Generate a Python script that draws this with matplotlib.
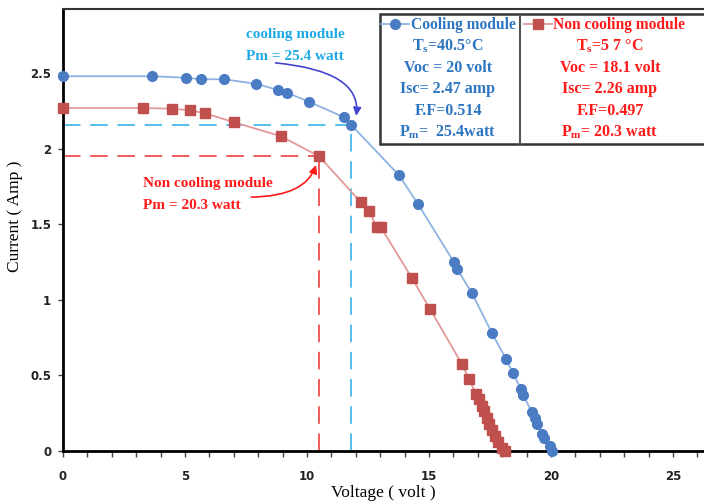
import matplotlib
matplotlib.use('Agg')
import matplotlib.pyplot as plt
from matplotlib.ticker import MultipleLocator
from matplotlib.patches import Rectangle

# cooling module I-V points
v_cool = [0, 3.65, 5.04, 5.66, 6.6, 7.9, 8.8, 9.2, 10.1, 11.5, 11.8,
          13.77, 14.55, 16.02, 16.15, 16.76, 17.58, 18.16, 18.44, 18.77,
          18.85, 19.22, 19.34, 19.43, 19.63, 19.71, 19.96, 20.04]
i_cool = [2.48, 2.48, 2.47, 2.46, 2.46, 2.43, 2.39, 2.37, 2.31, 2.21, 2.16,
          1.825, 1.634, 1.25, 1.204, 1.045, 0.78, 0.608, 0.516, 0.41,
          0.37, 0.258, 0.218, 0.179, 0.112, 0.086, 0.033, 0.0]

# non cooling module I-V points
v_non = [0, 3.28, 4.47, 5.2, 5.82, 7.0, 8.93, 10.5, 12.2, 12.54, 12.87,
         13.03, 14.3, 15.04, 16.35, 16.64, 16.93, 17.05, 17.17, 17.25,
         17.38, 17.46, 17.58, 17.7, 17.83, 17.99, 18.11]
i_non = [2.27, 2.27, 2.265, 2.255, 2.235, 2.176, 2.083, 1.95, 1.647, 1.587,
         1.48, 1.48, 1.144, 0.94, 0.575, 0.476, 0.377, 0.344, 0.298, 0.265,
         0.218, 0.179, 0.139, 0.099, 0.06, 0.02, 0.0]

# maximum power points [cooling, non cooling]
mpp_v = [11.8, 10.5]
mpp_i = [2.16, 1.95]

cool_rows = ['T$_\\mathregular{s}$=40.5°C', 'Voc = 20 volt', 'Isc= 2.47 amp',
             'F.F=0.514', 'P$_\\mathregular{m}$=  25.4watt']
non_rows = ['T$_\\mathregular{s}$=5 7 °C', 'Voc = 18.1 volt', 'Isc= 2.26 amp',
            'F.F=0.497', 'P$_\\mathregular{m}$= 20.3 watt']

serif = 'Liberation Serif'
blue_txt = '#2E75C0'
red_txt = '#FF1A1A'

fig = plt.figure(figsize=(7.04, 5.04), dpi=100)
ax = fig.add_axes([63 / 704, 53 / 504, 641 / 704, 442 / 504])

# dashed guide lines to the max power points
ax.plot([0, mpp_v[0]], [mpp_i[0], mpp_i[0]], color='#55BDEB', lw=1.4, dashes=(9, 5))
ax.plot([mpp_v[0], mpp_v[0]], [0, mpp_i[0]], color='#55BDEB', lw=1.4, dashes=(9, 5))
ax.plot([0, mpp_v[1]], [mpp_i[1], mpp_i[1]], color='#F05A5A', lw=1.4, dashes=(9, 5))
ax.plot([mpp_v[1], mpp_v[1]], [0, mpp_i[1]], color='#F05A5A', lw=1.4, dashes=(9, 5))

l1, = ax.plot(v_cool, i_cool, color='#8DB3E2', lw=1.3, marker='o', ms=7,
              mfc='#4A7CC4', mec='#4A7CC4', clip_on=False, zorder=4)
l2, = ax.plot(v_non, i_non, color='#E29A98', lw=1.3, marker='s', ms=6.5,
              mfc='#C0504D', mec='#C0504D', clip_on=False, zorder=4)

# annotations
ax.text(7.5, 2.758, 'cooling module', color='#1DA8E6', fontsize=11,
        fontweight='bold', family=serif, va='center')
ax.text(7.5, 2.612, 'Pm = 25.4 watt', color='#1DA8E6', fontsize=11,
        fontweight='bold', family=serif, va='center')
ax.annotate('', xy=(mpp_v[0] + 0.2, mpp_i[0] + 0.04), xytext=(8.6, 2.57),
            arrowprops=dict(arrowstyle='-|>', color='#4444D0', lw=1.2,
                            connectionstyle='angle3,angleA=-5,angleB=80',
                            mutation_scale=12))
ax.text(3.28, 1.772, 'Non cooling module', color=red_txt, fontsize=11,
        fontweight='bold', family=serif, va='center')
ax.text(3.28, 1.627, 'Pm = 20.3 watt', color=red_txt, fontsize=11,
        fontweight='bold', family=serif, va='center')
ax.annotate('', xy=(mpp_v[1] - 0.1, mpp_i[1] - 0.04), xytext=(7.6, 1.68),
            arrowprops=dict(arrowstyle='-|>', color=red_txt, lw=1.2,
                            connectionstyle='angle3,angleA=0,angleB=75',
                            mutation_scale=12))

# info box
x0 = (380 - 63) / 641
y0 = (451 - 144) / 442
ax.add_patch(Rectangle((x0, y0), 1.2, 130 / 442, transform=ax.transAxes,
                       facecolor='white', edgecolor='#333333', lw=1.8,
                       zorder=5, clip_on=False))
xd = (520 - 63) / 641
ax.plot([xd, xd], [y0, y0 + 130 / 442], transform=ax.transAxes, color='#555555',
        lw=1.5, zorder=6, clip_on=False)
leg = ax.legend([l1, l2], ['Cooling module', 'Non cooling module'], ncol=2,
                loc='upper left', bbox_to_anchor=(x0 - 0.004, 0.99),
                frameon=False, handlelength=1.8, handletextpad=0.1,
                columnspacing=0.5, borderaxespad=0, borderpad=0.25,
                prop=dict(family=serif, weight='bold', size=11.2))
leg.set_zorder(7)
for t, c in zip(leg.get_texts(), [blue_txt, red_txt]):
    t.set_color(c)
row_y = [(451 - y) / 442 for y in [46, 68, 89, 111, 132]]
for ry, a, b in zip(row_y, cool_rows, non_rows):
    ax.text((448 - 63) / 641, ry, a, transform=ax.transAxes, ha='center',
            va='center', color=blue_txt, fontsize=11.5, fontweight='bold',
            family=serif, zorder=7)
    ax.text((610 - 63) / 641, ry, b, transform=ax.transAxes, ha='center',
            va='center', color=red_txt, fontsize=11.5, fontweight='bold',
            family=serif, zorder=7)

ax.set_xlim(0, 26.27)
ax.set_ylim(0, 2.925)
ax.xaxis.set_major_locator(MultipleLocator(5))
ax.xaxis.set_minor_locator(MultipleLocator(1))
ax.set_yticks([0, 0.5, 1, 1.5, 2, 2.5])
ax.set_yticklabels(['0', '0.5', '1', '1.5', '2', '2.5'])
ax.tick_params(axis='x', which='both', direction='out', length=4, width=1,
               color='#444444', pad=10)
ax.tick_params(axis='y', direction='out', length=3.5, width=1, color='#444444', pad=5)
for lab in ax.get_xticklabels() + ax.get_yticklabels():
    lab.set_fontweight('bold')
    lab.set_fontsize(8.5)
    lab.set_family('DejaVu Sans')
    lab.set_color('#222222')

ax.spines['right'].set_visible(False)
ax.spines['left'].set_linewidth(2)
ax.spines['bottom'].set_linewidth(2)
ax.spines['top'].set_linewidth(1.5)
ax.spines['top'].set_color('#333333')

ax.set_xlabel('Voltage ( volt )', family=serif, fontsize=12.5)
ax.xaxis.set_label_coords(0.5, -0.077)
ax.set_ylabel('Current ( Amp )', family=serif, fontsize=12.5)
ax.yaxis.set_label_coords(-0.062, 0.53)

plt.savefig('out.png', dpi=100)
